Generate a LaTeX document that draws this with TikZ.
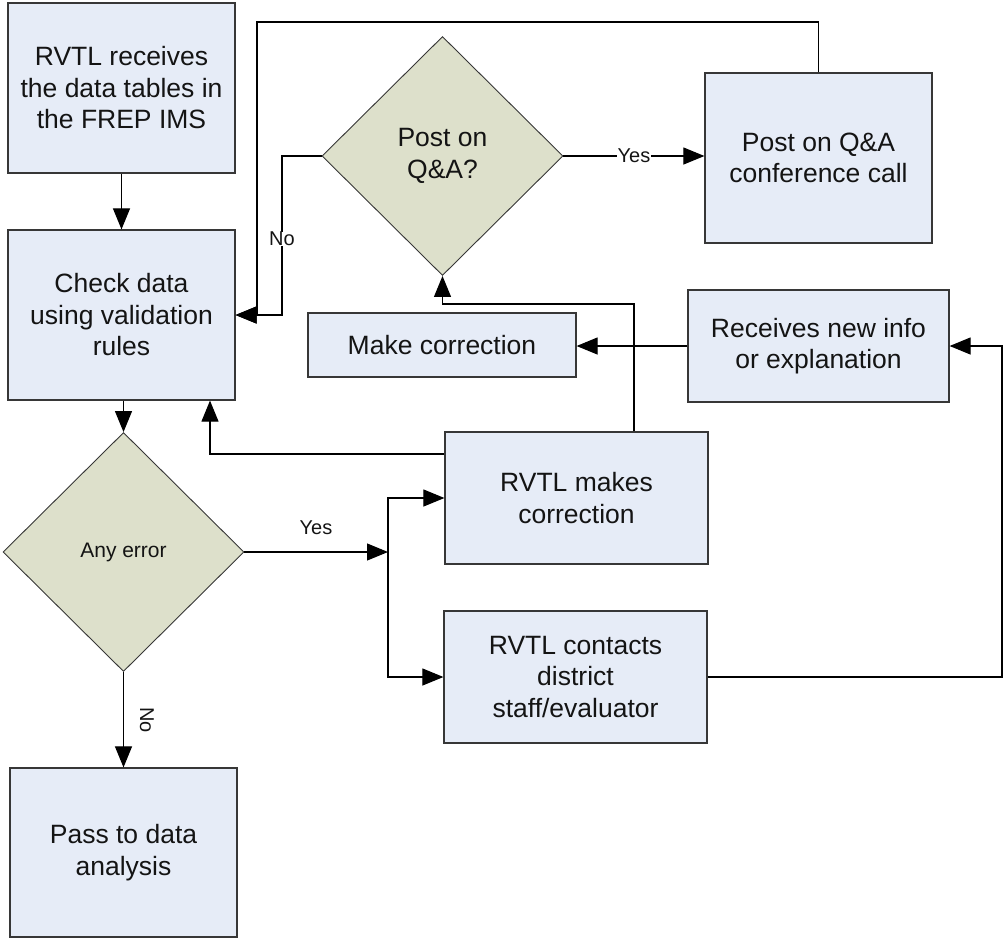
\documentclass[tikz,border=0pt]{standalone}
\usepackage{fontspec}
\setmainfont{Liberation Sans}
\usetikzlibrary{shapes.geometric,arrows.meta,calc}
\definecolor{boxfill}{RGB}{230,236,247}
\definecolor{dfill}{RGB}{221,224,203}
\definecolor{edge}{RGB}{55,55,55}
\definecolor{txt}{RGB}{20,20,20}
\begin{document}
\begin{tikzpicture}[x=1pt,y=-1pt,
  proc/.style={draw=edge, line width=1.2pt, fill=boxfill, align=center, inner sep=0pt, text=txt,
    font=\fontsize{26.5}{31.5}\selectfont},
  dec/.style={diamond, draw=edge, line width=0.9pt, fill=dfill, align=center, inner sep=0pt, aspect=1,
    minimum width=241, minimum height=239, text=txt},
  arr/.style={line width=1.1pt, draw=black, -{Triangle[length=21pt,width=17pt]}},
  lab/.style={font=\fontsize{20}{24}\selectfont, text=txt, inner sep=1pt}
]
\useasboundingbox (0,0) rectangle (1004,938);

\node[proc, minimum width=227, minimum height=170] (b1) at (121.5,88) {RVTL receives\\the data tables in\\the FREP IMS};
\node[proc, minimum width=227, minimum height=170] (b2) at (121.5,315) {Check data\\using validation\\rules};
\node[dec, font=\fontsize{21}{25}\selectfont] (d1) at (123.5,552) {Any error};
\node[proc, minimum width=227, minimum height=169] (b8) at (123.5,852.5) {Pass to data\\analysis};
\node[dec, font=\fontsize{26.5}{31.5}\selectfont] (d2) at (442.5,156) {Post on\\Q\&A?};
\node[proc, minimum width=227, minimum height=170] (b3) at (818.5,158) {Post on Q\&A\\conference call};
\node[proc, minimum width=268, minimum height=64] (b4) at (442,345) {Make correction};
\node[proc, minimum width=261, minimum height=112] (b5) at (818.5,346) {Receives new info\\or explanation};
\node[proc, minimum width=263, minimum height=132] (b6) at (576.5,498) {RVTL makes\\correction};
\node[proc, minimum width=263, minimum height=132] (b7) at (575.5,677) {RVTL contacts\\district\\staff/evaluator};

\coordinate (split) at (388,552);

% main flow
\draw[arr] (b1.south -| 121.5,0) -- (b2.north -| 121.5,0);
\draw[arr] (b2.south -| d1.north) -- (d1.north);
\draw[arr] (d1.south) -- (b8.north -| d1.south);
\node[lab, rotate=-90] (no1) at (147,720) {No};

% yes branch
\draw[arr] (d1.east) -- (split);
\node[lab] (yes1) at (316,528) {Yes};
\draw[arr] (split) |- (b6.west);
\draw[arr] (split) |- (b7.west);

% RVTL makes correction back to check data
\draw[arr] (b6.west |- 0,454) -| (b2.south -| 210,0);
% RVTL makes correction up to Post on Q&A
\draw[arr] (b6.north -| 634,0) |- (d2.south |- 0,304) -- (d2.south);

% receives -> make correction
\draw[arr] (b5.west) -- (b4.east |- b5.west);
% contacts -> receives
\draw[arr] (b7.east) -- (b7.east -| 1002,0) |- (b5.east);

% Post on Q&A decisions
\draw[arr] (d2.east) -- node[lab, fill=white, inner sep=0.5pt] (yes2) {Yes} (b3.west |- d2.east);
\draw[arr] (d2.west) -- (d2.west -| 282,0) |- (b2.east);
\node[lab, fill=white, inner sep=0.5pt] (no2) at (282,239) {No};
\draw[arr] (b3.north) |- (257,22) |- (b2.east);

\end{tikzpicture}
\end{document}
